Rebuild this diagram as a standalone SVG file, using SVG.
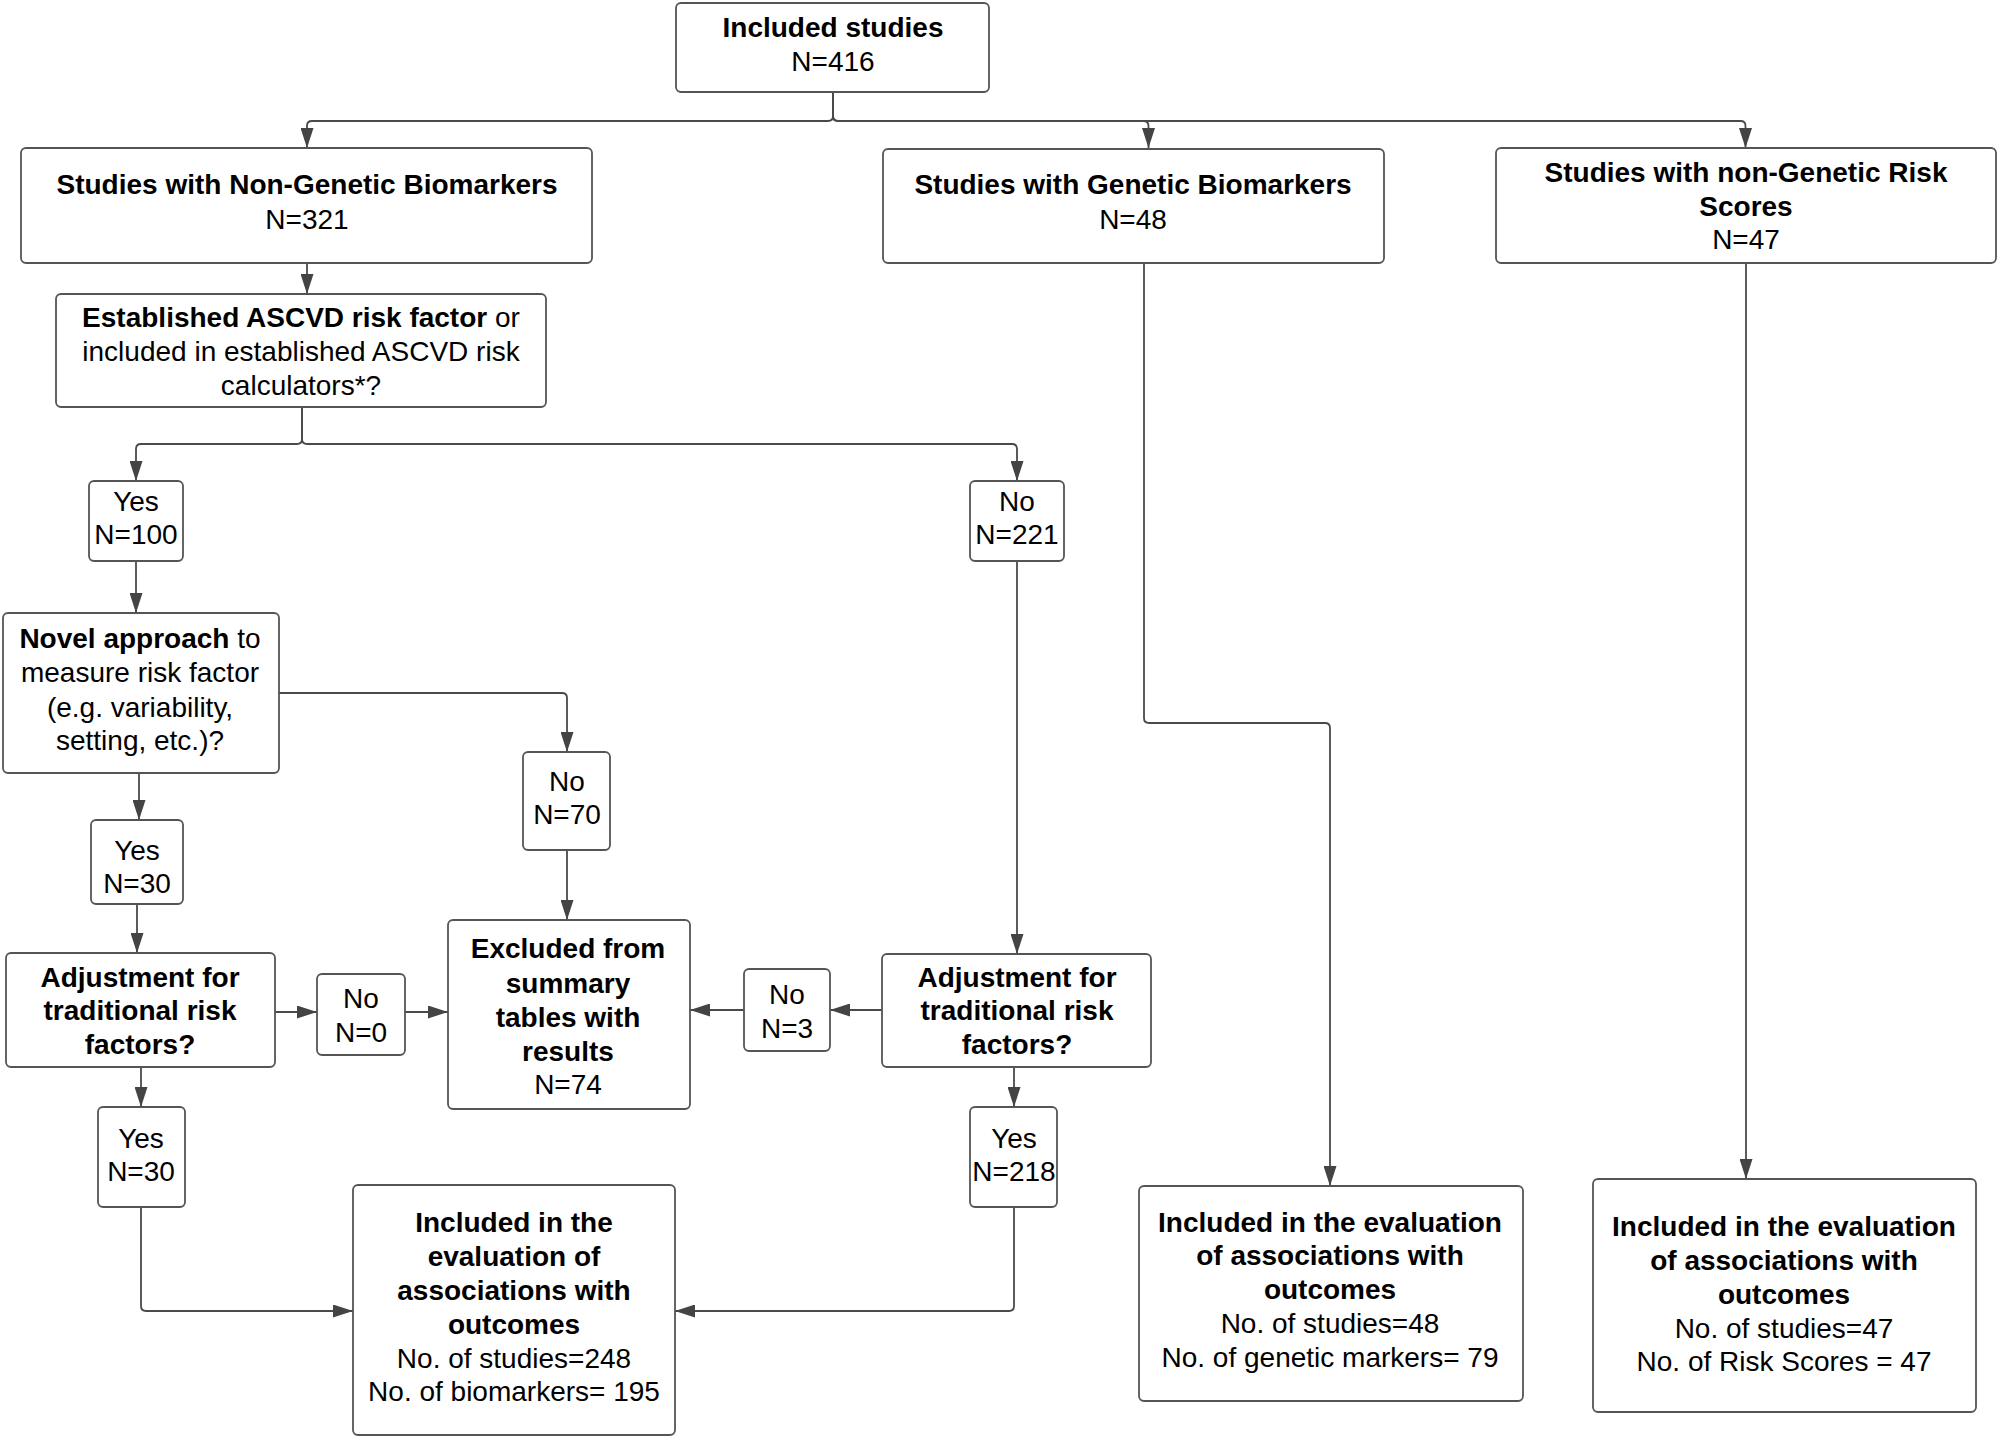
<svg xmlns="http://www.w3.org/2000/svg" width="2000" height="1438" viewBox="0 0 2000 1438">
<defs>
<marker id="ah" markerUnits="userSpaceOnUse" markerWidth="20" markerHeight="13" refX="20" refY="6.5" orient="auto">
<path d="M0,0 L20,6.5 L0,13 z" fill="#444"/>
</marker>
<style>
.box{fill:#fff;stroke:#555;stroke-width:1.8}
.ln{fill:none;stroke:#4a4a4a;stroke-width:1.8;marker-end:url(#ah)}
text{font-family:"Liberation Sans",Arial,sans-serif;font-size:28px;fill:#000;text-anchor:middle}
.b{font-weight:bold}
</style>
</defs>
<rect width="2000" height="1438" fill="#fff"/>
<g id="connectors">
<path class="ln" d="M833,93 V116 Q833,121 828,121 H312 Q307,121 307,126 V148"/>
<path class="ln" d="M833,93 V116 Q833,121 838,121 H1143.5 Q1148.5,121 1148.5,126 V148"/>
<path class="ln" d="M833,93 V116 Q833,121 838,121 H1740.5 Q1745.5,121 1745.5,126 V148"/>
<path class="ln" d="M307,263 V294"/>
<path class="ln" d="M302,407 V439 Q302,444 297,444 H141 Q136,444 136,449 V481"/>
<path class="ln" d="M302,407 V439 Q302,444 307,444 H1012 Q1017,444 1017,449 V481"/>
<path class="ln" d="M136,561 V613"/>
<path class="ln" d="M279,693 H562 Q567,693 567,698 V752"/>
<path class="ln" d="M139,773 V820"/>
<path class="ln" d="M567,850 V920"/>
<path class="ln" d="M137,904 V953"/>
<path class="ln" d="M275,1012 H317"/>
<path class="ln" d="M405,1012 H448"/>
<path class="ln" d="M882,1010 H830"/>
<path class="ln" d="M744,1010 H690"/>
<path class="ln" d="M1017,561 V954"/>
<path class="ln" d="M141,1067 V1107"/>
<path class="ln" d="M1014,1067 V1107"/>
<path class="ln" d="M141,1207 V1306 Q141,1311 146,1311 H353"/>
<path class="ln" d="M1014,1207 V1306 Q1014,1311 1009,1311 H675"/>
<path class="ln" d="M1144,263 V718 Q1144,723 1149,723 H1325 Q1330,723 1330,728 V1186"/>
<path class="ln" d="M1746,263 V1179"/>
</g>
<g id="inc"><rect class="box" x="676" y="3" width="313" height="89" rx="5"/>
<text x="833" y="37" class="b">Included studies</text><text x="833" y="71">N=416</text></g>
<g id="ng"><rect class="box" x="21" y="148" width="571" height="115" rx="5"/>
<text x="307" y="194" class="b">Studies with Non-Genetic Biomarkers</text><text x="307" y="229">N=321</text></g>
<g id="gen"><rect class="box" x="883" y="149" width="501" height="114" rx="5"/>
<text x="1133" y="194" class="b">Studies with Genetic Biomarkers</text><text x="1133" y="229">N=48</text></g>
<g id="rs"><rect class="box" x="1496" y="148" width="500" height="115" rx="5"/>
<text x="1746" y="182" class="b">Studies with non-Genetic Risk</text><text x="1746" y="216" class="b">Scores</text><text x="1746" y="249">N=47</text></g>
<g id="est"><rect class="box" x="56" y="294" width="490" height="113" rx="5"/>
<text x="301" y="327"><tspan class="b">Established ASCVD risk factor</tspan> or</text>
<text x="301" y="361">included in established ASCVD risk</text>
<text x="301" y="395">calculators*?</text></g>
<g id="yes100"><rect class="box" x="89" y="481" width="94" height="80" rx="5"/>
<text x="136" y="511">Yes</text><text x="136" y="544">N=100</text></g>
<g id="no221"><rect class="box" x="970" y="481" width="94" height="80" rx="5"/>
<text x="1017" y="511">No</text><text x="1017" y="544">N=221</text></g>
<g id="novel"><rect class="box" x="3" y="613" width="276" height="160" rx="5"/>
<text x="140" y="648"><tspan class="b">Novel approach</tspan> to</text>
<text x="140" y="682">measure risk factor</text>
<text x="140" y="717">(e.g. variability,</text>
<text x="140" y="750">setting, etc.)?</text></g>
<g id="no70"><rect class="box" x="523" y="752" width="87" height="98" rx="5"/>
<text x="567" y="791" fill="#333">No</text><text x="567" y="824" fill="#333">N=70</text></g>
<g id="yes30"><rect class="box" x="91" y="820" width="92" height="84" rx="5"/>
<text x="137" y="860">Yes</text><text x="137" y="893">N=30</text></g>
<g id="adjL"><rect class="box" x="6" y="953" width="269" height="114" rx="5"/>
<text x="140" y="987" class="b">Adjustment for</text><text x="140" y="1020" class="b">traditional risk</text><text x="140" y="1054" class="b">factors?</text></g>
<g id="no0"><rect class="box" x="317" y="974" width="88" height="81" rx="5"/>
<text x="361" y="1008">No</text><text x="361" y="1042">N=0</text></g>
<g id="excl"><rect class="box" x="448" y="920" width="242" height="189" rx="5"/>
<text x="568" y="958" class="b">Excluded from</text><text x="568" y="993" class="b">summary</text><text x="568" y="1027" class="b">tables with</text><text x="568" y="1061" class="b">results</text><text x="568" y="1094">N=74</text></g>
<g id="no3"><rect class="box" x="744" y="969" width="86" height="82" rx="5"/>
<text x="787" y="1004">No</text><text x="787" y="1038">N=3</text></g>
<g id="adjR"><rect class="box" x="882" y="954" width="269" height="113" rx="5"/>
<text x="1017" y="987" class="b">Adjustment for</text><text x="1017" y="1020" class="b">traditional risk</text><text x="1017" y="1054" class="b">factors?</text></g>
<g id="yes30b"><rect class="box" x="98" y="1107" width="87" height="100" rx="5"/>
<text x="141" y="1148">Yes</text><text x="141" y="1181">N=30</text></g>
<g id="yes218"><rect class="box" x="970" y="1107" width="87" height="100" rx="5"/>
<text x="1014" y="1148">Yes</text><text x="1014" y="1181">N=218</text></g>
<g id="incL"><rect class="box" x="353" y="1185" width="322" height="250" rx="5"/>
<text x="514" y="1232" class="b">Included in the</text><text x="514" y="1266" class="b">evaluation of</text><text x="514" y="1300" class="b">associations with</text><text x="514" y="1334" class="b">outcomes</text>
<text x="514" y="1368">No. of studies=248</text><text x="514" y="1401">No. of biomarkers= 195</text></g>
<g id="incG"><rect class="box" x="1139" y="1186" width="384" height="215" rx="5"/>
<text x="1330" y="1232" class="b">Included in the evaluation</text><text x="1330" y="1265" class="b">of associations with</text><text x="1330" y="1299" class="b">outcomes</text>
<text x="1330" y="1333">No. of studies=48</text><text x="1330" y="1367">No. of genetic markers= 79</text></g>
<g id="incR"><rect class="box" x="1593" y="1179" width="383" height="233" rx="5"/>
<text x="1784" y="1236" class="b">Included in the evaluation</text><text x="1784" y="1270" class="b">of associations with</text><text x="1784" y="1304" class="b">outcomes</text>
<text x="1784" y="1338">No. of studies=47</text><text x="1784" y="1371">No. of Risk Scores = 47</text></g>
</svg>
